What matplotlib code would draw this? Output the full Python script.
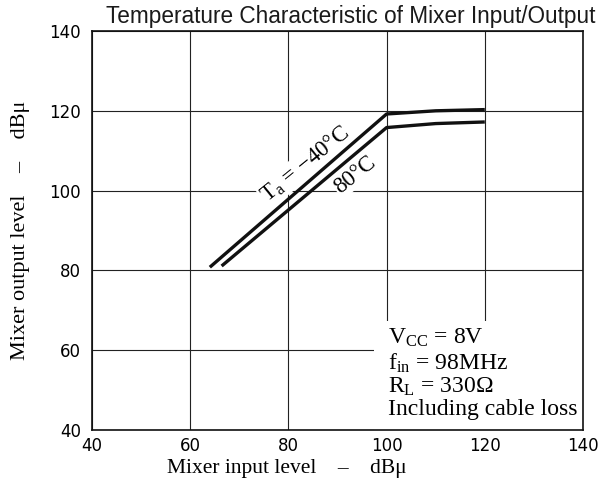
import matplotlib
matplotlib.use("Agg")
import matplotlib.pyplot as plt
from matplotlib.patches import Rectangle

# ---- data ----
x_ticks = [40, 60, 80, 100, 120, 140]
y_ticks = [40, 60, 80, 100, 120, 140]
x_m40 = [64.0, 100.0, 110.0, 120.0]
y_m40 = [80.8, 119.2, 120.0, 120.3]
x_80 = [66.4, 100.0, 110.0, 120.0]
y_80 = [81.1, 115.8, 116.8, 117.2]
title = "Temperature Characteristic of Mixer Input/Output"
xlabel = "Mixer input level    \u2013    dB\u03bc"
ylabel = "Mixer output level    \u2013    dB\u03bc"
label_m40 = "T$_{\\rm a}$ = \u221240\u00b0C"
label_80 = "80\u00b0C"
cond_lines = ["V$_{\\rm CC}$ = 8V", "f$_{\\rm in}$ = 98MHz",
              "R$_{\\rm L}$ = 330\u03a9", "Including cable loss"]

plt.rcParams['mathtext.fontset'] = 'custom'
plt.rcParams['mathtext.rm'] = 'Liberation Serif'
plt.rcParams['mathtext.it'] = 'Liberation Serif:italic'

W, H = 604, 484
fig = plt.figure(figsize=(W / 100, H / 100), dpi=100)
L, R, T, B = 92, 583, 31, 430
ax = fig.add_axes([L / W, 1 - B / H, (R - L) / W, (B - T) / H])

ax.set_xlim(40, 140)
ax.set_ylim(40, 140)
ax.set_xticks(x_ticks)
ax.set_yticks(y_ticks)
ax.set_axisbelow(True)
ax.grid(True, color='#222222', linewidth=0.8)
ax.tick_params(length=0, labelsize=12)
ax.tick_params(axis='x', pad=5)
ax.tick_params(axis='y', pad=8)
for lab in ax.get_xticklabels() + ax.get_yticklabels():
    lab.set_fontfamily('DejaVu Sans')
for s in ax.spines.values():
    s.set_linewidth(1.2)
    s.set_color('#111111')

# white mask behind the conditions text
ax.add_patch(Rectangle((97.5, 40), 42.5, 27.3, facecolor='white',
                       edgecolor='none', zorder=1))

ax.plot(x_m40, y_m40, color='#111111', linewidth=2.4, solid_capstyle='butt', zorder=3)
ax.plot(x_80, y_80, color='#111111', linewidth=2.4, solid_capstyle='butt', zorder=3)

bb = dict(facecolor='white', edgecolor='none', pad=1.0)
ax.text(83.4, 106.5, label_m40, rotation=39,
        rotation_mode='anchor', ha='center', va='center', fontsize=16.5,
        family='Liberation Serif', bbox=bb, zorder=2)
ax.text(93.6, 104.0, label_80, rotation=39,
        rotation_mode='anchor', ha='center', va='center', fontsize=16.5,
        family='Liberation Serif', bbox=bb, zorder=2)

ys = [338, 363, 387, 410]
for t, yy in zip(cond_lines, ys):
    fig.text(388 / W, 1 - yy / H, t, ha='left', va='center', fontsize=17,
             family='Liberation Serif')

fig.text(351 / W, 1 - 17 / H, title, ha='center', va='center', fontsize=16.3,
         family='Liberation Sans', color='#1a1a1a')
fig.text(287 / W, 1 - 469 / H, xlabel, ha='center', va='center', fontsize=15.5,
         family='Liberation Serif')
fig.text(21 / W, 1 - 230 / H, ylabel, ha='center', va='center', fontsize=16,
         family='Liberation Serif', rotation=90)

fig.savefig("out.png", dpi=100)
